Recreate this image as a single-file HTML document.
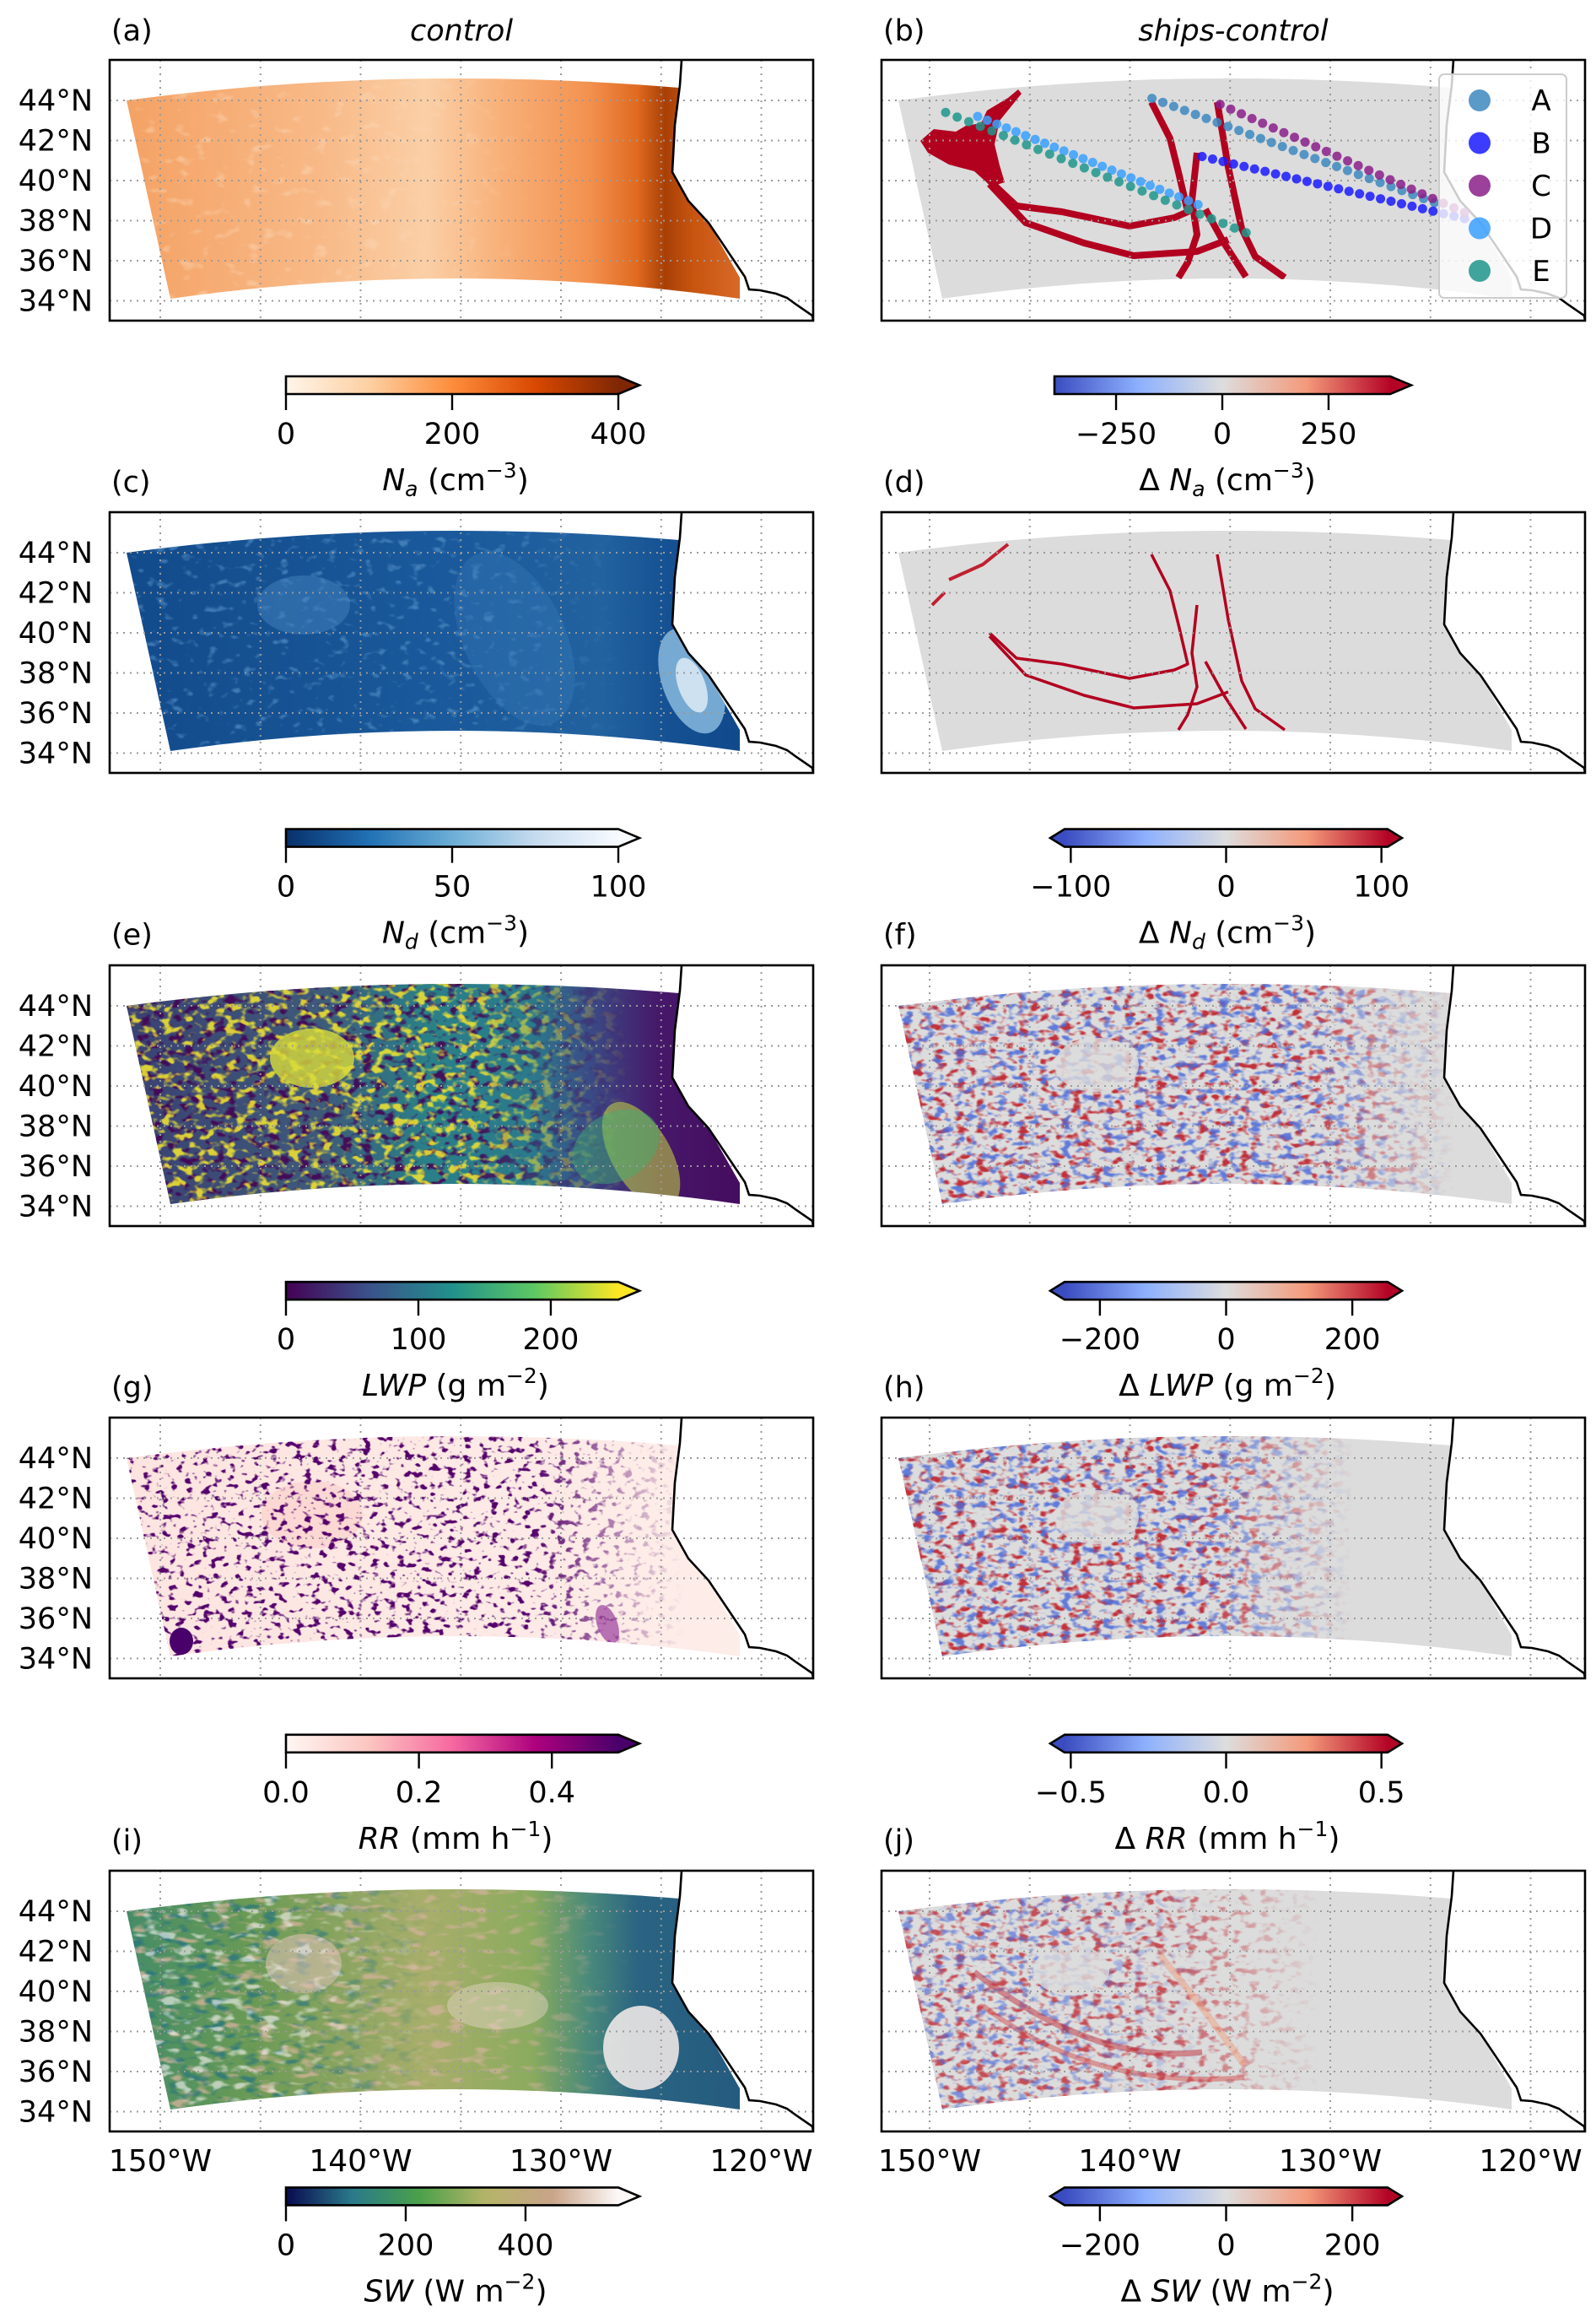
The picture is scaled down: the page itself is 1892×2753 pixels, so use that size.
<!DOCTYPE html>
<html><head><meta charset="utf-8"><style>
html,body{margin:0;padding:0;background:#fff;}
svg{display:block;font-family:"DejaVu Sans","Liberation Sans",sans-serif;}
</style></head><body>
<svg id="fig" xmlns="http://www.w3.org/2000/svg" width="1892" height="2753" viewBox="0 0 1892 2753">
<defs id="defs"></defs>
<g id="root"></g>
</svg>
<script>
// ---- data arrays ----
const latTicks = [44, 42, 40, 38, 36, 34];
const lonGrid = [-150, -145, -140, -135, -130, -125, -120];
const lonTicks = [-150, -140, -130, -120];
const lonTickLabels = ["150°W", "140°W", "130°W", "120°W"];
const shipNames = ["A", "B", "C", "D", "E"];
const shipColors = ["#3c88c0", "#1a1aff", "#8a1f8a", "#3aa0ff", "#1f978c"];
const shipStartLon = [-138.9, -136.4, -135.5, -147.6, -149.2];
const shipStartLat = [44.1, 41.2, 43.8, 43.2, 43.4];
const shipEndLon = [-124.8, -123.3, -123.3, -136.6, -134.2];
const shipEndLat = [38.9, 38.1, 38.4, 38.8, 37.4];
const shipCounts = [27, 26, 24, 24, 27];
const cbMin = [0, -395, 0, -104, 0, -256, 0, -0.52, 0, -256];
const cbMax = [400, 395, 100, 104, 251, 256, 0.5, 0.52, 555, 256];
const cbTicks = [[0,200,400],[-250,0,250],[0,50,100],[-100,0,100],[0,100,200],[-200,0,200],[0,0.2,0.4],[-0.5,0,0.5],[0,200,400],[-200,0,200]];
const cbTickLabels = [["0","200","400"],["\u2212250","0","250"],["0","50","100"],["\u2212100","0","100"],["0","100","200"],["\u2212200","0","200"],["0.0","0.2","0.4"],["\u22120.5","0.0","0.5"],["0","200","400"],["\u2212200","0","200"]];

const NS="http://www.w3.org/2000/svg";
const defs=document.getElementById('defs');
const root=document.getElementById('root');
function mk(tag,attrs,parent){const e=document.createElementNS(NS,tag);for(const k in attrs)e.setAttribute(k,attrs[k]);(parent||root).appendChild(e);return e;}

const colX=[130,1045], gridOff=[60,57];
const rowY=[71,607,1144,1680,2217];
const PW=834, PH=309;
function xLon(lon,c){return gridOff[c]+(lon+150)*23.75;}
function yLat(lat){return 48+(44-lat)*23.75;}

const domainD="M20,48 Q340,5 675,33 L670,77 L667,133 L686,167 L710,193 L747,258 L747,283 Q410,235 72,283 Z";
const coastD="M678,0 L676,30 L670,77 L667,133 L686,167 L710,193 L753,257 L758,272 L771,273 L790,277 L803,282 L814,290 L833,303 L834,309";

const cmaps={
 oranges:["#fff5eb","#fdd0a2","#fd8d3c","#d94801","#7f2704"],
 blues_r:["#08306b","#2171b5","#6baed6","#c6dbef","#f7fbff"],
 viridis:["#440154","#3b528b","#21918c","#5ec962","#fde725"],
 rdpu:["#fff7f3","#fcc5c0","#f768a1","#ae017e","#49006a"],
 earth:["#0a0a50","#2a7a8a","#4aa04a","#b4b468","#c8a488","#fdf8f8"],
 coolwarm:["#3b4cc0","#8db0fe","#dddddd","#f49a7b","#b40426"]
};
function linGrad(id,stops,x1,y1,x2,y2,units){
 const a={id:id,x1:x1||0,y1:y1||0,x2:x2===undefined?1:x2,y2:y2||0};
 if(units)a.gradientUnits=units;
 const g=mk('linearGradient',a,defs);
 stops.forEach((s,i)=>{const o=Array.isArray(s)?s[0]:i/(stops.length-1);const c=Array.isArray(s)?s[1]:s;mk('stop',{offset:o,'stop-color':c},g);});
}
Object.keys(cmaps).forEach(k=>linGrad('cm_'+k,cmaps[k]));
mk('clipPath',{id:'dom'},defs).appendChild((()=>{const p=document.createElementNS(NS,'path');p.setAttribute('d',domainD);return p;})());
mk('clipPath',{id:'frame'},defs).appendChild((()=>{const p=document.createElementNS(NS,'rect');p.setAttribute('width',PW);p.setAttribute('height',PH);return p;})());

function hMask(id,x0,x1){
 linGrad('mg_'+id,[[0,'#fff'],[x0/PW,'#fff'],[x1/PW,'#000']],0,0,PW,0,'userSpaceOnUse');
 const m=mk('mask',{id:id,maskUnits:'userSpaceOnUse',x:0,y:0,width:PW,height:PH},defs);
 mk('rect',{x:0,y:0,width:PW,height:PH,fill:'url(#mg_'+id+')'},m);
}
hMask('mL1',430,620);hMask('mL2',500,680);hMask('mL3',330,520);hMask('mL4',380,560);hMask('mL5',200,400);

function speckle(id,rgb,freq,seed,gain,thr,oct){
 const f=mk('filter',{id:id,x:0,y:0,width:1,height:1,'color-interpolation-filters':'sRGB'},defs);
 mk('feTurbulence',{type:'fractalNoise',baseFrequency:freq,numOctaves:oct||2,seed:seed},f);
 mk('feColorMatrix',{type:'matrix',values:`0 0 0 0 ${rgb[0]} 0 0 0 0 ${rgb[1]} 0 0 0 0 ${rgb[2]} ${gain} 0 0 0 ${-thr}`},f);
}
speckle('spLightOr',[0.99,0.85,0.72],'0.05 0.08',3,5,3.0);
speckle('spLightBlue',[0.42,0.65,0.85],'0.07 0.1',5,5,3.0);
speckle('spYellow',[0.92,0.88,0.2],'0.08 0.11',7,6,3.1);
speckle('spPurple',[0.27,0.0,0.33],'0.08 0.11',11,6,3.1);
speckle('spRed',[0.75,0.12,0.16],'0.08 0.13',13,5,2.6);
speckle('spBlue',[0.3,0.42,0.85],'0.08 0.13',17,5,2.6);
speckle('spRPurple',[0.33,0.0,0.42],'0.1 0.14',19,8,4.5);
speckle('spTan',[0.82,0.7,0.6],'0.04 0.1',23,5,2.8);
speckle('spDkGreen',[0.15,0.45,0.5],'0.05 0.1',29,5,2.7);
speckle('spWhite',[0.99,0.97,0.97],'0.05 0.1',31,6,3.4);

linGrad('gA',[[0,'#f4a061'],[0.3,'#f8b987'],[0.45,'#fbcfa6'],[0.55,'#f8b27b'],[0.68,'#f39250'],[0.75,'#e06a20'],[0.79,'#a84006'],[0.83,'#c85510'],[0.9,'#d86a28']]);
linGrad('gC',[[0,'#124a8a'],[0.5,'#1a5a9c'],[0.7,'#22629f'],[0.8,'#145092'],[1,'#0d4385']]);
linGrad('gE',[[0,'#3a3e72'],[0.3,'#3e5a7a'],[0.45,'#2a8088'],[0.6,'#2b7a8c'],[0.68,'#3a4c86'],[0.78,'#46186a'],[1,'#440154']]);
linGrad('gG',[[0,'#fde4e0'],[1,'#fdeeea']]);
linGrad('gI',[[0,'#3f8a6a'],[0.2,'#6a9a55'],[0.45,'#a8ae6a'],[0.6,'#8aab5e'],[0.68,'#4a8a7a'],[0.75,'#2a6482'],[1,'#20547c']]);

function panelBase(g,k){
 const dg=mk('g',{'clip-path':'url(#dom)'},g);
 
 
 const R=(fill,x,y,w,h,op)=>mk('rect',{x:x,y:y,width:w,height:h,fill:fill,opacity:op===undefined?1:op},dg);
 const F=(f,op,m)=>{const a={x:0,y:0,width:PW,height:PH,filter:'url(#'+f+')',opacity:op===undefined?1:op};if(m)a.mask='url(#'+m+')';return mk('rect',a,dg);};
 const E=(fill,cx,cy,rx,ry,op,rot)=>mk('ellipse',{cx:cx,cy:cy,rx:rx,ry:ry,fill:fill,opacity:op,transform:`rotate(${rot||0} ${cx} ${cy})`},dg);
 if(k==='a'){R('url(#gA)',0,0,PW,PH);F('spLightOr',0.45,'mL3');}
 else if(k==='b'||k==='d'||k==='f'||k==='h'){R('#dcdcdc',0,0,PW,PH);}
 else if(k==='c'){R('url(#gC)',0,0,PW,PH);F('spLightBlue',0.5,'mL1');E('#4a88c4',230,110,55,35,0.45,0);E('#3f80c0',480,150,60,110,0.3,-25);E('#8fc0e4',690,200,35,65,0.8,-20);E('#e4eff8',690,205,16,34,0.8,-20);}
 else if(k==='e'){R('url(#gE)',0,0,PW,PH);F('spPurple',0.85,'mL1');F('spYellow',0.9,'mL1');E('#d8dc3a',240,110,50,35,0.8,0);E('#c8d840',630,225,35,70,0.55,-30);E('#40b070',600,215,55,40,0.45,-30);}
 else if(k==='g'){R('url(#gG)',0,0,PW,PH);E('#fbcfca',240,115,60,40,0.6,0);F('spRPurple',1,'mL2');E('#49006a',85,265,14,16,1,0);E('#8a2090',590,245,12,24,0.6,-20);}
 else if(k==='i'){R('url(#gI)',0,0,PW,PH);F('spTan',0.8,'mL1');F('spDkGreen',0.75,'mL5');E('#f8eeec',630,210,45,50,0.85,0);E('#e8d8cc',460,160,60,28,0.45,0);E('#d8c0b0',230,110,45,35,0.6,0);F('spWhite',0.6,'mL5');}
 else if(k==='j'){R('#dcdcdc',0,0,PW,PH);}
 if(k==='f'||k==='h'){
  const m=k==='f'?'mL2':'mL4';
  F('spRed',0.9,m);F('spBlue',0.85,m);
  mk('ellipse',{cx:255,cy:118,rx:50,ry:32,fill:'#dcdcdc',opacity:0.8},dg);
 }
 if(k==='j'){
  F('spRed',0.75,'mL3');F('spBlue',0.65,'mL5');
  mk('ellipse',{cx:225,cy:118,rx:45,ry:30,fill:'#dcdcdc',opacity:0.8},dg);
  mk('path',{d:'M110,120 Q250,230 380,215',stroke:'#c0303a','stroke-width':7,fill:'none',opacity:0.5},dg);
  mk('path',{d:'M120,160 Q250,260 430,245',stroke:'#d04040','stroke-width':6,fill:'none',opacity:0.45},dg);
  mk('path',{d:'M330,100 Q380,160 430,230',stroke:'#f0a080','stroke-width':8,fill:'none',opacity:0.5},dg);
 }
 return dg;
}
function redTracks(dg,w){
 if(w>6){
  mk('path',{d:'M162,35 L150,45 L125,60 L118,75 L100,78 L88,85 L62,82 L46,96 L55,110 L80,124 L110,132 L130,150 L146,145 L140,125 L134,100 L140,72 L166,40 Z',fill:'#b2001f'},dg);
 } else {
  mk('path',{d:'M150,38 L120,62 L80,80 M75,95 L60,110',stroke:'#c02030','stroke-width':4,fill:'none'},dg);
 }
 const lines=['M128,143 L160,173 L214,180 L294,197 L347,187 L363,180 L352,133 L342,93 L320,50',
 'M128,147 L171,193 L240,217 L299,232 L374,227 L411,213',
 'M398,50 L411,127 L427,200 L443,233 L478,258',
 'M374,110 L368,167 L374,207 L363,240 L352,258',
 'M384,177 L406,217 L432,257'];
 lines.forEach(d=>{const p=mk('path',{d:d,stroke:'#b2001f','stroke-width':w,fill:'none','stroke-linejoin':'round'},dg);
  });
}

const letters=['a','b','c','d','e','f','g','h','i','j'];
const titlesLeft=[null,'Na','Nd','LWP','RR','SW'];
function addLabelText(g,x,y,kind,delta){
 const t=mk('text',{x:x,y:y,'font-size':36,'text-anchor':'middle',fill:'#000'},g);
 const parts={Na:[['N','i'],['a','sub'],[' (cm',''],['\u22123','sup'],[')','']],
  Nd:[['N','i'],['d','sub'],[' (cm',''],['\u22123','sup'],[')','']],
  LWP:[['LWP','i'],[' (g m',''],['\u22122','sup'],[')','']],
  RR:[['RR','i'],[' (mm h',''],['\u22121','sup'],[')','']],
  SW:[['SW','i'],[' (W m',''],['\u22122','sup'],[')','']]}[kind];
 if(delta){const s=mk('tspan',{},t);s.textContent='\u0394 ';}
 parts.forEach(p=>{
  const s=mk('tspan',{},t);s.textContent=p[0];
  if(p[1]==='i')s.setAttribute('font-style','italic');
  if(p[1]==='sub'){s.setAttribute('font-style','italic');s.setAttribute('font-size',25);s.setAttribute('dy',7);}
  if(p[1]==='sup'){s.setAttribute('font-size',25);s.setAttribute('dy',-15);}
  if(p[1]===''&&(p[0]===')'||p[0].startsWith(' ('))){
   if(p[0]===')')s.setAttribute('dy',15); else if(kind==='Na'||kind==='Nd')s.setAttribute('dy',-7);
  }
 });
 return t;
}

for(let r=0;r<5;r++){
 for(let c=0;c<2;c++){
  const idx=r*2+c, k=letters[idx];
  const g=mk('g',{transform:`translate(${colX[c]},${rowY[r]})`});
  
  
  mk('rect',{x:0,y:0,width:PW,height:PH,fill:'#fff'},g);
  const inner=mk('g',{'clip-path':'url(#frame)'},g);
  const dg=panelBase(inner,k);
  if(k==='b')redTracks(dg,8);
  if(k==='d')redTracks(dg,3.5);
  lonGrid.forEach(lon=>{const l=mk('line',{x1:xLon(lon,c),x2:xLon(lon,c),y1:0,y2:PH,stroke:'#9a9a9a','stroke-width':2,'stroke-dasharray':'2,6'},inner);
   });
  latTicks.forEach(lat=>{const l=mk('line',{x1:0,x2:PW,y1:yLat(lat),y2:yLat(lat),stroke:'#9a9a9a','stroke-width':2,'stroke-dasharray':'2,6'},inner);
   });
  const coast=mk('path',{d:coastD,stroke:'#000','stroke-width':2.6,fill:'none'},inner);
  
  if(k==='b'){
   for(let s=0;s<shipNames.length;s++){
    const sg=mk('g',{},inner);
    
    
    for(let i=0;i<shipCounts[s];i++){
     const f=i/(shipCounts[s]-1);
     const lon=shipStartLon[s]+(shipEndLon[s]-shipStartLon[s])*f;
     const lat=shipStartLat[s]+(shipEndLat[s]-shipStartLat[s])*f;
     const pt=mk('circle',{cx:xLon(lon,1),cy:yLat(lat),r:5.5,fill:shipColors[s],opacity:0.85},sg);
     
     
    }
   }
   const lg=mk('g',{},inner);
   
   
   mk('rect',{x:661,y:17,width:151,height:265,rx:6,fill:'#fff','fill-opacity':0.8,stroke:'#cccccc','stroke-width':2},lg);
   shipNames.forEach((n,s)=>{
    const y=48+s*50.5;
    const m=mk('circle',{cx:709,cy:y,r:13,fill:shipColors[s],opacity:0.85},lg);
    
    
    const t=mk('text',{x:782,y:y+12,'font-size':34,'text-anchor':'middle'},lg);t.textContent=n;
    
    
   });
  }
  mk('rect',{x:0,y:0,width:PW,height:PH,fill:'none',stroke:'#000','stroke-width':2.6},g);
  if(c===0){latTicks.forEach(lat=>{const t=mk('text',{x:-20,y:yLat(lat)+12,'font-size':35,'text-anchor':'end'},g);t.textContent=lat+'°N';
   });}
  if(r===4){lonTicks.forEach((lon,i)=>{const t=mk('text',{x:xLon(lon,c),y:356,'font-size':36,'text-anchor':'middle'},g);t.textContent=lonTickLabels[i];
   });}
  const ly=(r===0)?48:(446+536.6*(r-1)+137);
  const pl=mk('text',{x:colX[c]+2,y:ly,'font-size':35},root);pl.textContent='('+k+')';
  
  const cbTop=446+536.6*r;
  const both=(c===1&&r>0);
  const bx0=c===0?339:(both?1262:1250), bx1=c===0?733:(both?1645:1648);
  const cg=mk('g',{},root);
  
  
  const cm=['oranges','coolwarm','blues_r','coolwarm','viridis','coolwarm','rdpu','coolwarm','earth','coolwarm'][idx];
  const h=21, tip=both?17:25;
  const endCol=cmaps[cm][cmaps[cm].length-1], startCol=cmaps[cm][0];
  mk('polygon',{points:`${bx1},${cbTop} ${bx1+tip},${cbTop+h/2} ${bx1},${cbTop+h}`,fill:endCol},cg);
  if(both)mk('polygon',{points:`${bx0},${cbTop} ${bx0-tip},${cbTop+h/2} ${bx0},${cbTop+h}`,fill:startCol},cg);
  mk('rect',{x:bx0,y:cbTop,width:bx1-bx0,height:h,fill:`url(#cm_${cm})`},cg);
  const outline=both?`M${bx0},${cbTop} L${bx1},${cbTop} L${bx1+tip},${cbTop+h/2} L${bx1},${cbTop+h} L${bx0},${cbTop+h} L${bx0-tip},${cbTop+h/2} Z`
   :`M${bx0},${cbTop} L${bx1},${cbTop} L${bx1+tip},${cbTop+h/2} L${bx1},${cbTop+h} L${bx0},${cbTop+h} Z`;
  mk('path',{d:outline,fill:'none',stroke:'#000','stroke-width':2.6},cg);
  cbTicks[idx].forEach((v,i)=>{
   const x=bx0+(v-cbMin[idx])/(cbMax[idx]-cbMin[idx])*(bx1-bx0);
   const tl=mk('line',{x1:x,x2:x,y1:cbTop+h,y2:cbTop+h+19,stroke:'#000','stroke-width':2.4},cg);
   
   const t=mk('text',{x:x,y:cbTop+80,'font-size':35,'text-anchor':'middle'},cg);t.textContent=cbTickLabels[idx][i];
   
  });
  const cx=c===0?540:1455;
  const kind=titlesLeft[r+1];
  const lt=addLabelText(root,cx,cbTop+135,kind,c===1);
  
  
 }
}
const t1=mk('text',{x:547,y:48,'font-size':35,'text-anchor':'middle','font-style':'italic'});t1.textContent='control';

const t2=mk('text',{x:1462,y:48,'font-size':35,'text-anchor':'middle','font-style':'italic'});t2.textContent='ships-control';

</script>
</body></html>
